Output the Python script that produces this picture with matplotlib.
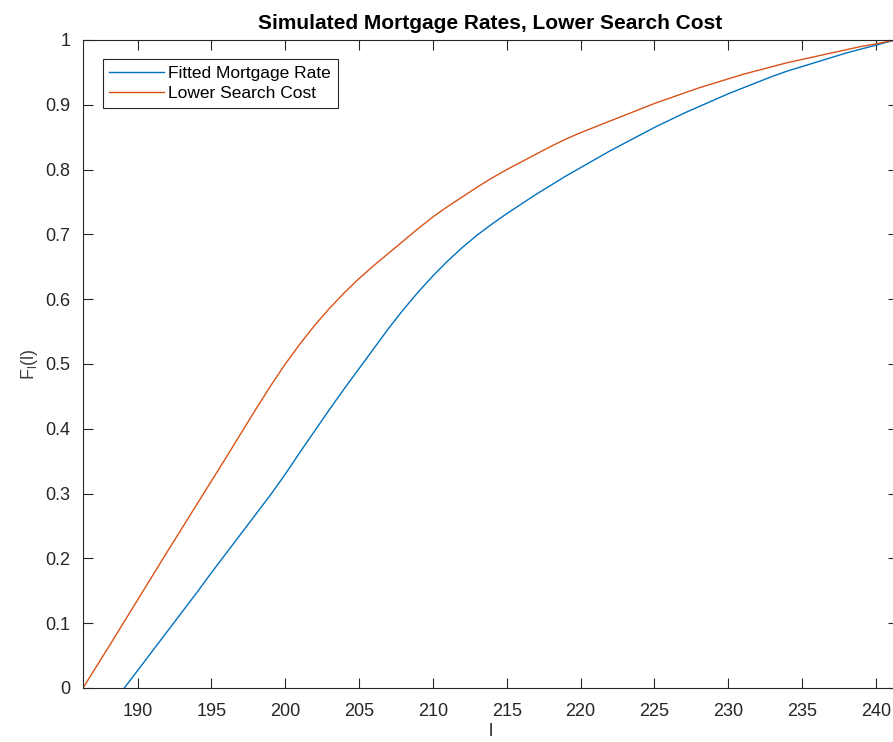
import matplotlib
matplotlib.use("Agg")
import matplotlib.pyplot as plt
from matplotlib.ticker import FixedLocator, FixedFormatter

plt.rcParams['font.family'] = ['Liberation Sans', 'DejaVu Sans']

# Fitted mortgage rate CDF
fitted_l = [189.1, 190, 191, 192, 193, 194, 195, 196, 197, 198, 199, 200,
            201, 202, 203, 204, 205, 206, 207, 208, 209, 210, 211, 212, 213,
            214, 215, 216, 217, 218, 219, 220, 221, 222, 223, 224, 225, 226,
            227, 228, 229, 230, 231, 232, 233, 234, 235, 236, 237, 238, 239,
            240, 241.3]
fitted_F = [0.000, 0.027, 0.057, 0.087, 0.117, 0.147, 0.178, 0.208, 0.238,
            0.268, 0.298, 0.330, 0.364, 0.397, 0.430, 0.462, 0.493, 0.524,
            0.555, 0.584, 0.611, 0.636, 0.659, 0.680, 0.699, 0.716, 0.732,
            0.747, 0.762, 0.776, 0.790, 0.803, 0.816, 0.829, 0.841, 0.853,
            0.865, 0.876, 0.887, 0.897, 0.907, 0.917, 0.926, 0.935, 0.944,
            0.952, 0.959, 0.966, 0.973, 0.980, 0.986, 0.992, 1.000]

# CDF under lower search cost
lower_l = [186.3, 188, 190, 192, 194, 196, 198, 199, 200, 201, 202, 203,
           204, 205, 206, 207, 208, 209, 210, 211, 212, 213, 214, 215, 216,
           217, 218, 219, 220, 221, 222, 223, 224, 225, 226, 227, 228, 229,
           230, 231, 232, 233, 234, 235, 236, 237, 238, 239, 240, 241.3]
lower_F = [0.000, 0.062, 0.136, 0.210, 0.283, 0.356, 0.430, 0.466, 0.500,
           0.531, 0.560, 0.586, 0.610, 0.632, 0.652, 0.671, 0.690, 0.709,
           0.727, 0.743, 0.758, 0.773, 0.787, 0.800, 0.812, 0.824, 0.836,
           0.847, 0.857, 0.866, 0.875, 0.884, 0.893, 0.902, 0.910, 0.918,
           0.926, 0.933, 0.940, 0.947, 0.953, 0.959, 0.965, 0.970, 0.975,
           0.980, 0.985, 0.990, 0.994, 1.000]

series_labels = ['Fitted Mortgage Rate', 'Lower Search Cost']
x_ticks = [190, 195, 200, 205, 210, 215, 220, 225, 230, 235, 240]
y_ticks = [0, 0.1, 0.2, 0.3, 0.4, 0.5, 0.6, 0.7, 0.8, 0.9, 1]
y_tick_labels = ['0', '0.1', '0.2', '0.3', '0.4', '0.5', '0.6', '0.7', '0.8', '0.9', '1']

W, H = 893, 742
fig = plt.figure(figsize=(W / 100, H / 100), dpi=100)
ax = fig.add_axes([83 / W, 54 / H, 815 / W, 648 / H])

ax.plot(fitted_l, fitted_F, color='#0072BD', lw=1.0, label=series_labels[0])
ax.plot(lower_l, lower_F, color='#D95319', lw=1.0, label=series_labels[1])

ax.set_xlim(186.3, 241.5)
ax.set_ylim(0, 1)

axis_col = '#262626'
ax.xaxis.set_major_locator(FixedLocator(x_ticks))
ax.yaxis.set_major_locator(FixedLocator(y_ticks))
ax.yaxis.set_major_formatter(FixedFormatter(y_tick_labels))
ax.tick_params(direction='in', length=7, width=0.8, colors=axis_col,
               labelsize=13, top=True, right=True)
ax.tick_params(axis='x', pad=11)
ax.tick_params(axis='y', pad=9)
for s in ax.spines.values():
    s.set_color(axis_col)
    s.set_linewidth(0.8)

ax.set_title('Simulated Mortgage Rates, Lower Search Cost', fontsize=15,
             fontweight='bold', color='black', pad=8)
ax.set_ylabel(r'F$_\mathregular{l}$(l)', fontsize=13, color='#404040', labelpad=4)
ax.set_xlabel('l', fontsize=13, color=axis_col, labelpad=2)

leg = ax.legend(loc='upper left', bbox_to_anchor=(102.7 / W, 1 - 59.3 / H),
                bbox_transform=fig.transFigure, borderaxespad=0, fontsize=12.5,
                fancybox=False, handlelength=3.15, handletextpad=0.25,
                labelspacing=0.3, borderpad=0.38, framealpha=1)
leg.get_frame().set_edgecolor(axis_col)
leg.get_frame().set_linewidth(0.8)
for t in leg.get_texts():
    t.set_color('black')

fig.savefig('out.png', dpi=100)
